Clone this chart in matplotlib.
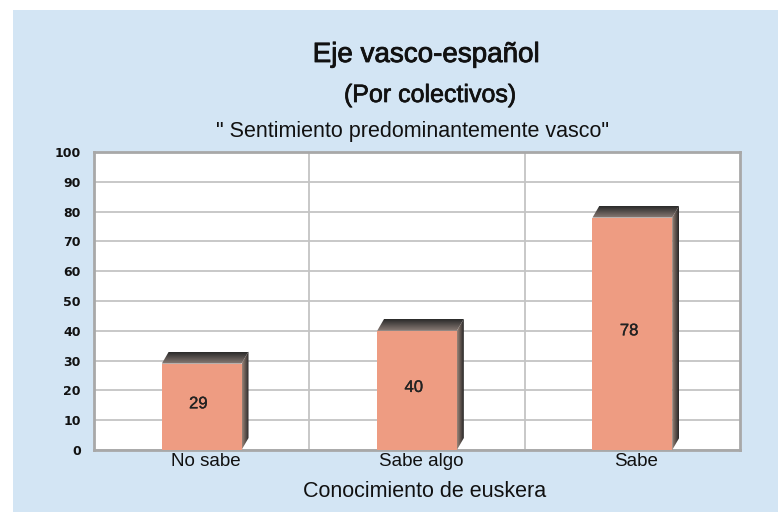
import numpy as np
import matplotlib.pyplot as plt
import matplotlib.patheffects as pe
from matplotlib.patches import Polygon, Rectangle
from matplotlib.colors import LinearSegmentedColormap
from matplotlib.transforms import ScaledTranslation

categories = ["No sabe", "Sabe algo", "Sabe"]
values = [29, 40, 78]
yticks = list(range(0, 101, 10))

title = "Eje vasco-español"
subtitle = "(Por colectivos)"
subtitle2 = '" Sentimiento predominantemente vasco"'
xlabel = "Conocimiento de euskera"

plt.rcParams["font.family"] = ["Liberation Sans", "DejaVu Sans"]

W, H, DPI = 778, 517, 100
fig = plt.figure(figsize=(W / DPI, H / DPI), dpi=DPI)
fig.patch.set_facecolor("white")
# light blue panel behind everything
fig.patches.append(Rectangle((13 / W, 5 / H), 1, 502 / H, transform=fig.transFigure,
                             facecolor="#D3E5F4", edgecolor="none", zorder=-10))

ax = fig.add_axes([94 / W, (H - 450) / H, 646 / W, 298 / H])
ax.set_facecolor("white")
ax.set_xlim(-0.5, len(categories) - 0.5)
ax.set_ylim(0, 100)

# pixel -> data conversion for the 3D depth of the bars
px_x = (len(categories)) / 646
px_y = 100 / 298
dx, dy = 7 * px_x, 12 * px_y
bar_w = 0.37


def grad_poly(verts, c0, c1, horizontal, z):
    poly = Polygon(verts, closed=True, facecolor="none", edgecolor="none")
    ax.add_patch(poly)
    xs = [v[0] for v in verts]
    ys = [v[1] for v in verts]
    g = np.linspace(0, 1, 64)
    arr = g[None, :] if horizontal else g[:, None]
    cmap = LinearSegmentedColormap.from_list("g", [c0, c1])
    im = ax.imshow(arr, cmap=cmap, extent=(min(xs), max(xs), min(ys), max(ys)),
                   origin="lower", aspect="auto", zorder=z, interpolation="bilinear")
    im.set_clip_path(poly)


xpos = np.arange(len(categories))
ax.bar(xpos, values, width=bar_w, color="#EE9C82", edgecolor="none", zorder=4)
for x, v in zip(xpos, values):
    x0, x1 = x - bar_w / 2, x + bar_w / 2
    # side face
    grad_poly([(x1, 0), (x1 + dx, dy), (x1 + dx, v + dy), (x1, v)],
              "#9a8478", "#262626", True, 3)
    # top face
    grad_poly([(x0, v), (x0 + dx, v + dy), (x1 + dx, v + dy), (x1, v)],
              "#8a7c76", "#2a2a2a", False, 3)
    ax.text(x - 0.015, v / 2 + 1, str(v), ha="center", va="center",
            fontsize=12, color="#222222", zorder=6,
            path_effects=[pe.withStroke(linewidth=0.25, foreground="#222222")])

ax.set_xlim(-0.5, len(categories) - 0.5)
ax.set_ylim(0, 100)

ax.set_axisbelow(True)
ax.set_yticks(yticks)
ax.yaxis.grid(True, color="#C4C4C4", linewidth=1.3, zorder=1)
for b in [0.5, 1.5]:
    ax.axvline(b, color="#C4C4C4", linewidth=1.3, zorder=1)
for s in ax.spines.values():
    s.set_color("#A8A8A8")
    s.set_linewidth(2)

ax.set_xticks(xpos)
ax.set_xticklabels(categories, fontsize=13.5, color="#111111")
ax.tick_params(axis="x", length=0, pad=2)
ax.tick_params(axis="y", length=0, pad=9.5)
shift = ScaledTranslation(4 / DPI, 0, fig.dpi_scale_trans)
for lab in ax.get_xticklabels():
    lab.set_transform(lab.get_transform() + shift)
for lab in ax.get_yticklabels():
    lab.set_family("DejaVu Sans")
    lab.set_fontweight("bold")
    lab.set_fontsize(9)
    lab.set_color("#111111")


def ftext(x, y, s, size, heavy=0.0):
    effects = [pe.withStroke(linewidth=heavy, foreground="#111111")] if heavy else None
    fig.text(x / W, 1 - y / H, s, ha="center", va="baseline", fontsize=size,
             color="#111111", path_effects=effects)


ftext(426, 62, title, 20, heavy=0.6)
ftext(430, 102, subtitle, 18, heavy=0.5)
ftext(413, 137, subtitle2, 15.5)
ftext(425, 497, xlabel, 15.5)

fig.savefig("out.png", dpi=DPI)
